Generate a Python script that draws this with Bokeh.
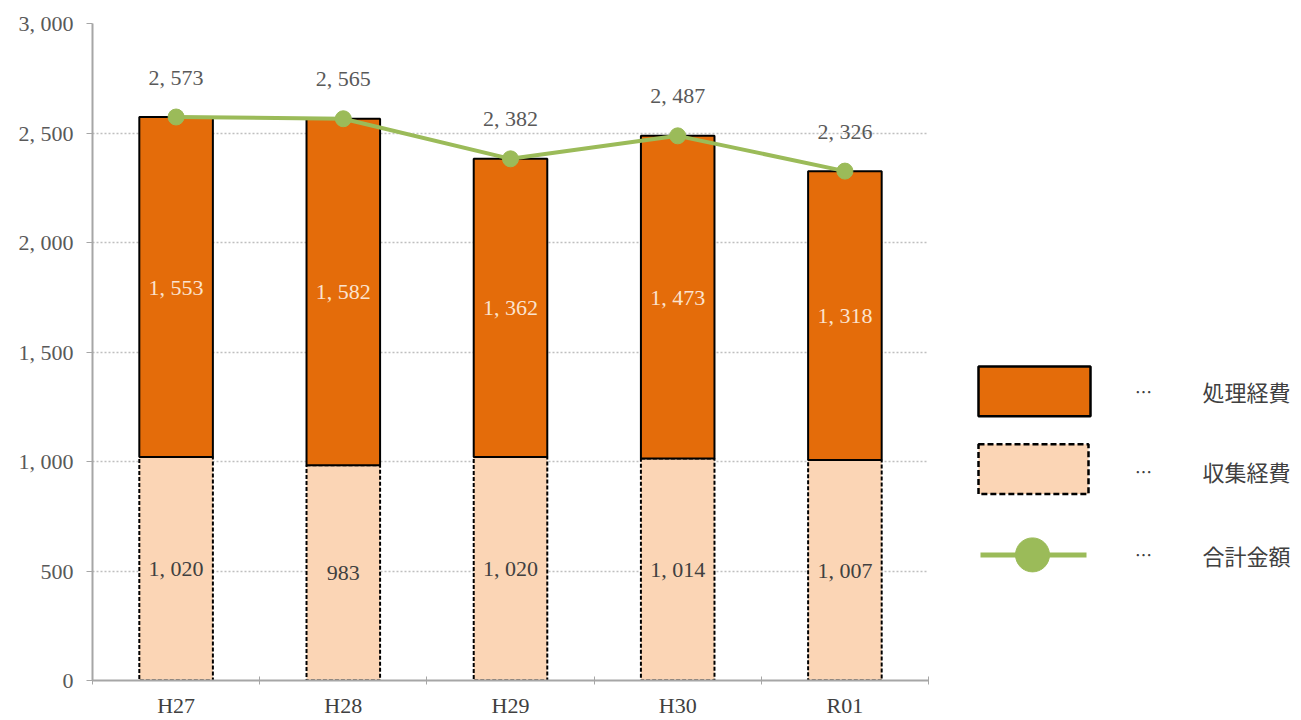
from bokeh.plotting import figure
from bokeh.layouts import row
from bokeh.models import FixedTicker, ColumnDataSource, Range1d
from bokeh.core.properties import value
from bokeh.embed import file_html
from bokeh.resources import INLINE

categories = ["H27", "H28", "H29", "H30", "R01"]
collection = [1020, 983, 1020, 1014, 1007]      # 収集経費
processing = [1553, 1582, 1362, 1473, 1318]     # 処理経費
totals = [2573, 2565, 2382, 2487, 2326]         # 合計金額
y_ticks = [0, 500, 1000, 1500, 2000, 2500, 3000]
y_tick_labels = ["0", "500", "1, 000", "1, 500", "2, 000", "2, 500", "3, 000"]
legend_names = ["処理経費", "収集経費", "合計金額"]

def fmt(v):
    s = f"{v:,}"
    return s.replace(",", ", ")

xs = [i + 0.5 for i in range(len(categories))]
tops = [c + p for c, p in zip(collection, processing)]
src = ColumnDataSource(dict(
    x=xs, col=collection, top=tops, tot=totals,
    col_mid=[c / 2 for c in collection],
    proc_mid=[c + p / 2 for c, p in zip(collection, processing)],
    col_lbl=[fmt(v) for v in collection],
    proc_lbl=[fmt(v) for v in processing],
    tot_lbl=[fmt(v) for v in totals],
))

SERIF = value("Liberation Serif")
FS = "22px"

p = figure(width=940, height=720, output_backend="svg", toolbar_location=None,
           x_range=Range1d(0, len(categories)), y_range=Range1d(0, 3000),
           min_border_left=92, min_border_right=12, min_border_top=23, min_border_bottom=38)
p.outline_line_color = None
p.background_fill_color = "white"
p.border_fill_color = "white"

# bars
p.vbar(x="x", bottom=0, top="col", width=0.44, source=src,
       fill_color="#FBD5B5", line_color="black", line_width=2, line_dash="4 2")
p.vbar(x="x", bottom="col", top="top", width=0.44, source=src,
       fill_color="#E46C0A", line_color="black", line_width=2)

# total line
p.line(x="x", y="tot", source=src, line_color="#9BBB59", line_width=4)
p.scatter(x="x", y="tot", source=src, size=16, fill_color="#9BBB59", line_color="#9BBB59")

# labels
p.text(x="x", y="col_mid", text="col_lbl", source=src, text_align="center", text_baseline="middle",
       text_font=SERIF, text_font_size=FS, text_color="#404040")
p.text(x="x", y="proc_mid", text="proc_lbl", source=src, text_align="center", text_baseline="middle",
       text_font=SERIF, text_font_size=FS, text_color="#FBE3CF")
p.text(x="x", y="tot", text="tot_lbl", source=src, text_align="center", text_baseline="middle",
       y_offset=-40, text_font=SERIF, text_font_size=FS, text_color="#595959")

# axes
p.xaxis.ticker = FixedTicker(ticks=xs, minor_ticks=list(range(len(categories) + 1)))
p.xaxis.major_label_overrides = {x: c for x, c in zip(xs, categories)}
p.xaxis.major_tick_in = 0
p.xaxis.major_tick_out = 0
p.xaxis.minor_tick_in = 4
p.xaxis.minor_tick_out = 4
p.xaxis.minor_tick_line_color = "#A6A6A6"
p.xaxis.axis_line_color = "#A6A6A6"
p.xaxis.axis_line_width = 2
p.xaxis.major_label_text_font = "Liberation Serif"
p.xaxis.major_label_text_font_size = FS
p.xaxis.major_label_text_color = "#404040"
p.xaxis.major_label_standoff = 8

p.yaxis.ticker = FixedTicker(ticks=y_ticks)
p.yaxis.major_label_overrides = {t: l for t, l in zip(y_ticks, y_tick_labels)}
p.yaxis.major_tick_in = 0
p.yaxis.major_tick_out = 6
p.yaxis.minor_tick_line_color = None
p.yaxis.major_tick_line_color = "#A6A6A6"
p.yaxis.axis_line_color = "#A6A6A6"
p.yaxis.axis_line_width = 2
p.yaxis.major_label_text_font = "Liberation Serif"
p.yaxis.major_label_text_font_size = FS
p.yaxis.major_label_text_color = "#595959"
p.yaxis.major_label_standoff = 13

p.xgrid.grid_line_color = None
p.ygrid.grid_line_color = "#BFBFBF"
p.ygrid.grid_line_dash = "2 2"
p.ygrid.grid_line_width = 1.5

# legend panel (pixel-like coordinates, frame aligned with main plot frame)
lg = figure(width=361, height=720, output_backend="svg", toolbar_location=None,
            x_range=Range1d(940, 1301), y_range=Range1d(682, 23),
            x_axis_location=None, y_axis_location=None,
            min_border_left=0, min_border_right=0, min_border_top=23, min_border_bottom=38)
lg.grid.visible = False
lg.outline_line_color = None
lg.quad(left=[978], right=[1090], top=[367], bottom=[417], fill_color="#E46C0A",
        line_color="black", line_width=2.5)
lg.quad(left=[978], right=[1088], top=[445], bottom=[495], fill_color="#FBD5B5",
        line_color="black", line_width=2.5, line_dash="6 3")
lg.line(x=[980, 1086], y=[556, 556], line_color="#9BBB59", line_width=5)
lg.scatter(x=[1032], y=[556], size=34, fill_color="#9BBB59", line_color="#9BBB59")
lg.text(x=[1143, 1143, 1143], y=[392, 472, 556], text=["…", "…", "…"],
        text_align="center", text_baseline="middle", text_font=value("Noto Sans CJK JP"),
        text_font_size="17px", text_color="#404040")
lg.text(x=[1202, 1202, 1202], y=[392, 472, 556], text=legend_names,
        text_align="left", text_baseline="middle", text_font=value("Noto Sans CJK JP"),
        text_font_size="22px", text_color="#404040")

layout = row(p, lg, spacing=0)
open("out.html", "w").write(file_html(layout, INLINE))
